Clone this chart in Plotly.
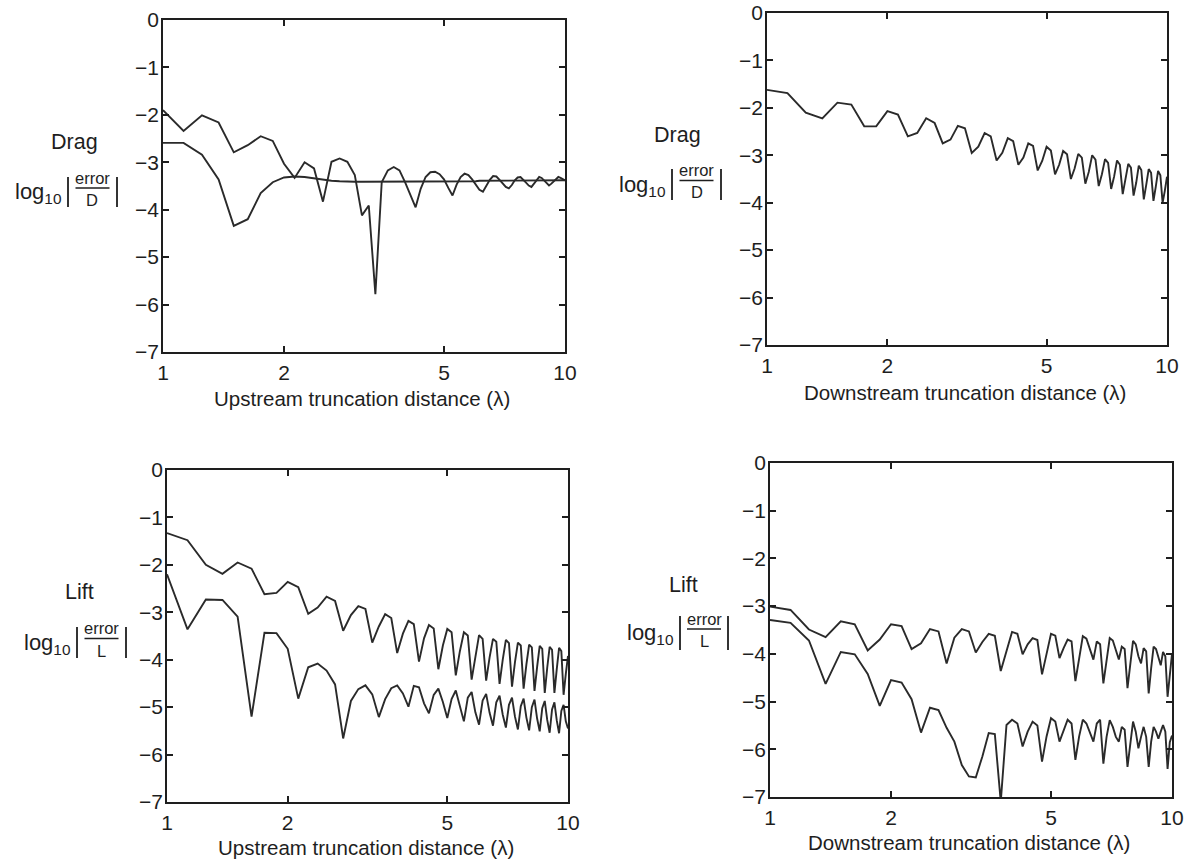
import plotly.graph_objects as go

# Truncation distance in wavelengths (sampled every 1/8 of a wavelength)
distance = [
    1.0, 1.125, 1.25, 1.375, 1.5, 1.625, 1.75, 1.875,
    2.0, 2.125, 2.25, 2.375, 2.5, 2.625, 2.75, 2.875,
    3.0, 3.125, 3.25, 3.375, 3.5, 3.625, 3.75, 3.875,
    4.0, 4.125, 4.25, 4.375, 4.5, 4.625, 4.75, 4.875,
    5.0, 5.125, 5.25, 5.375, 5.5, 5.625, 5.75, 5.875,
    6.0, 6.125, 6.25, 6.375, 6.5, 6.625, 6.75, 6.875,
    7.0, 7.125, 7.25, 7.375, 7.5, 7.625, 7.75, 7.875,
    8.0, 8.125, 8.25, 8.375, 8.5, 8.625, 8.75, 8.875,
    9.0, 9.125, 9.25, 9.375, 9.5, 9.625, 9.75, 9.875,
    10.0,
]

# log10 |error / D| vs upstream truncation distance
drag_up_osc = [
    -1.90, -2.34, -2.01, -2.16, -2.79, -2.64, -2.45, -2.55,
    -3.03, -3.33, -3.00, -3.13, -3.83, -2.99, -2.92, -2.99,
    -3.27, -4.12, -3.91, -5.78, -3.42, -3.17, -3.10, -3.17,
    -3.42, -3.70, -3.95, -3.56, -3.31, -3.21, -3.20, -3.25,
    -3.36, -3.54, -3.70, -3.47, -3.31, -3.24, -3.27, -3.36,
    -3.47, -3.58, -3.62, -3.50, -3.37, -3.29, -3.30, -3.37,
    -3.45, -3.52, -3.55, -3.48, -3.38, -3.32, -3.31, -3.36,
    -3.43, -3.49, -3.52, -3.45, -3.37, -3.31, -3.33, -3.38,
    -3.44, -3.49, -3.45, -3.40, -3.35, -3.31, -3.33, -3.35,
    -3.38,
]
drag_up_smooth = [
    -2.59, -2.59, -2.84, -3.36, -4.34, -4.20, -3.65, -3.42,
    -3.32, -3.30, -3.31, -3.34, -3.37, -3.39, -3.40, -3.41,
    -3.41, -3.41, -3.41, -3.41, -3.41, -3.41, -3.41, -3.41,
    -3.41, -3.40, -3.40, -3.40, -3.40, -3.40, -3.40, -3.40,
    -3.40, -3.40, -3.40, -3.40, -3.40, -3.40, -3.40, -3.40,
    -3.40, -3.39, -3.39, -3.39, -3.39, -3.39, -3.39, -3.39,
    -3.39, -3.39, -3.39, -3.39, -3.39, -3.39, -3.39, -3.39,
    -3.39, -3.38, -3.38, -3.38, -3.38, -3.38, -3.38, -3.38,
    -3.38, -3.38, -3.38, -3.38, -3.38, -3.38, -3.38, -3.38,
    -3.38,
]

# log10 |error / D| vs downstream truncation distance
drag_down = [
    -1.62, -1.69, -2.10, -2.22, -1.89, -1.93, -2.39, -2.39,
    -2.07, -2.14, -2.60, -2.53, -2.22, -2.32, -2.75, -2.67,
    -2.38, -2.43, -2.95, -2.82, -2.53, -2.60, -3.11, -2.95,
    -2.64, -2.70, -3.20, -3.05, -2.75, -2.80, -3.32, -3.12,
    -2.82, -2.90, -3.40, -3.20, -2.91, -2.98, -3.50, -3.28,
    -2.97, -3.05, -3.60, -3.35, -3.00, -3.09, -3.65, -3.40,
    -3.08, -3.16, -3.71, -3.45, -3.11, -3.20, -3.82, -3.52,
    -3.18, -3.26, -3.85, -3.58, -3.22, -3.31, -3.93, -3.62,
    -3.29, -3.37, -3.96, -3.66, -3.33, -3.42, -4.00, -3.75,
    -3.45,
]

# log10 |error / L| vs upstream truncation distance
lift_up_a = [
    -1.33, -1.48, -2.00, -2.19, -1.95, -2.08, -2.62, -2.59,
    -2.36, -2.47, -3.03, -2.90, -2.67, -2.76, -3.39, -3.06,
    -2.87, -2.93, -3.64, -3.30, -3.04, -3.12, -3.86, -3.45,
    -3.18, -3.25, -4.04, -3.55, -3.27, -3.34, -4.20, -3.70,
    -3.35, -3.42, -4.33, -3.82, -3.42, -3.49, -4.42, -3.90,
    -3.48, -3.56, -4.44, -3.95, -3.56, -3.62, -4.51, -4.00,
    -3.58, -3.65, -4.57, -4.05, -3.64, -3.70, -4.61, -4.10,
    -3.68, -3.74, -4.66, -4.15, -3.71, -3.77, -4.70, -4.17,
    -3.73, -3.79, -4.70, -4.20, -3.75, -3.82, -4.74, -4.30,
    -3.92,
]
lift_up_b = [
    -2.20, -3.36, -2.73, -2.74, -3.09, -5.20, -3.43, -3.44,
    -3.77, -4.82, -4.16, -4.08, -4.23, -4.52, -5.66, -4.87,
    -4.62, -4.54, -4.73, -5.21, -4.83, -4.60, -4.54, -4.71,
    -4.99, -4.55, -4.58, -4.92, -5.13, -4.74, -4.61, -4.89,
    -5.23, -4.83, -4.65, -4.96, -5.30, -4.80, -4.68, -5.11,
    -5.37, -4.86, -4.72, -5.12, -5.39, -4.90, -4.76, -5.16,
    -5.43, -4.95, -4.80, -5.20, -5.47, -4.98, -4.82, -5.22,
    -5.49, -5.00, -4.84, -5.24, -5.51, -5.02, -4.87, -5.27,
    -5.54, -5.05, -4.90, -5.28, -5.55, -5.08, -4.95, -5.30,
    -5.45,
]

# log10 |error / L| vs downstream truncation distance
lift_down_a = [
    -3.01, -3.08, -3.49, -3.65, -3.32, -3.38, -3.93, -3.70,
    -3.38, -3.42, -3.90, -3.78, -3.48, -3.53, -4.20, -3.66,
    -3.48, -3.53, -3.97, -3.75, -3.58, -3.62, -4.36, -3.95,
    -3.54, -3.58, -4.01, -3.80, -3.67, -3.71, -4.43, -4.00,
    -3.58, -3.62, -4.09, -3.88, -3.70, -3.74, -4.57, -4.10,
    -3.63, -3.68, -3.90, -4.12, -3.74, -3.80, -4.62, -4.15,
    -3.67, -3.72, -3.95, -4.12, -3.85, -3.90, -4.72, -4.25,
    -3.73, -3.80, -4.05, -4.20, -3.88, -3.95, -4.83, -4.30,
    -3.85, -3.90, -4.10, -4.24, -3.96, -4.05, -4.90, -4.40,
    -4.00,
]
lift_down_b = [
    -3.29, -3.35, -3.72, -4.63, -3.96, -4.01, -4.42, -5.09,
    -4.55, -4.60, -4.95, -5.65, -5.13, -5.18, -5.55, -5.84,
    -6.33, -6.57, -6.59, -6.15, -5.66, -5.68, -7.10, -5.49,
    -5.38, -5.46, -5.94, -5.63, -5.42, -5.50, -6.26, -5.73,
    -5.35, -5.42, -5.84, -5.59, -5.38, -5.46, -6.22, -5.73,
    -5.38, -5.46, -5.67, -5.84, -5.46, -5.38, -6.30, -5.74,
    -5.39, -5.53, -5.74, -5.84, -5.53, -5.59, -6.37, -5.84,
    -5.42, -5.63, -5.98, -5.74, -5.53, -5.74, -6.37, -5.84,
    -5.53, -5.63, -5.78, -5.63, -5.49, -5.63, -6.41, -5.85,
    -5.71,
]

x_ticks = [1, 2, 5, 10]
x_tick_text = ["1", "2", "5", "10"]
y_ticks = [0, -1, -2, -3, -4, -5, -6, -7]

W, H = 1195, 864
FONT = "Liberation Sans, Arial, Helvetica, sans-serif"
INK = "#1e1e1e"
LINE = "#2a2a2a"


def px(x):
    return x / W


def py(y):
    return 1 - y / H


# Panel frames in pixels: (left, right, top, bottom)
panels = {
    "1": (163, 565, 20, 352),
    "2": (767, 1167, 13, 345),
    "3": (167, 568, 470, 802),
    "4": (770, 1172, 463, 797),
}

fig = go.Figure()

series = [
    ("1", drag_up_osc), ("1", drag_up_smooth),
    ("2", drag_down),
    ("3", lift_up_a), ("3", lift_up_b),
    ("4", lift_down_a), ("4", lift_down_b),
]
for key, vals in series:
    suffix = "" if key == "1" else key
    fig.add_trace(go.Scatter(
        x=distance, y=vals, mode="lines",
        line=dict(color=LINE, width=1.9),
        xaxis="x" + suffix, yaxis="y" + suffix,
        showlegend=False, hoverinfo="skip",
    ))

layout_axes = {}
for key, (l, r, t, b) in panels.items():
    suffix = "" if key == "1" else key
    common = dict(
        showline=True, linewidth=1.8, linecolor=INK, mirror="ticks",
        ticks="inside", ticklen=6, tickwidth=1.6, tickcolor=INK,
        showgrid=False, zeroline=False, automargin=False,
        tickfont=dict(family=FONT, size=21, color=INK),
    )
    layout_axes["xaxis" + suffix] = dict(
        common, type="log", range=[0, 1], domain=[px(l), px(r)],
        anchor="y" + suffix, tickvals=x_ticks, ticktext=x_tick_text,
        ticklabelstandoff=1,
    )
    layout_axes["yaxis" + suffix] = dict(
        common, range=[-7, 0], domain=[py(b), py(t)],
        anchor="x" + suffix, tickvals=y_ticks, ticklabelstandoff=-2,
    )

fig.update_layout(**layout_axes)

annotations = []
shapes = []

# Horizontal axis titles
x_titles = [
    ("1", "Upstream truncation distance (λ)", 398),
    ("2", "Downstream truncation distance (λ)", 392),
    ("3", "Upstream truncation distance (λ)", 847),
    ("4", "Downstream truncation distance (λ)", 842),
]
for key, text, ypix in x_titles:
    l, r, _, _ = panels[key]
    annotations.append(dict(
        text=text, x=px((l + r) / 2 - 2), y=py(ypix), xref="paper",
        yref="paper", xanchor="center", yanchor="middle", showarrow=False,
        font=dict(family=FONT, size=20.5, color=INK),
    ))

# Vertical axis labels: quantity name above log10 |error / F|
y_labels = [
    # word, letter, word centre, left bar x, right bar x, bar top, bar bottom
    ("Drag", "D", (74, 142), 68, 117, 177, 207),
    ("Drag", "D", (677, 135), 672, 721, 169, 200),
    ("Lift", "L", (79, 592), 77, 126, 627, 658),
    ("Lift", "L", (683, 585), 680, 728, 616, 650),
]
for word, letter, (wx, wy), bl, br, bt, bb in y_labels:
    mid = (bt + bb) / 2
    cx = (bl + br) / 2
    annotations.append(dict(
        text=word, x=px(wx), y=py(wy), xref="paper", yref="paper",
        xanchor="center", yanchor="middle", showarrow=False,
        font=dict(family=FONT, size=21.5, color=INK),
    ))
    annotations.append(dict(
        text="log<sub>10</sub>", x=px(bl - 5), y=py(mid + 1), xref="paper",
        yref="paper", xanchor="right", yanchor="middle", showarrow=False,
        font=dict(family=FONT, size=22, color=INK),
    ))
    annotations.append(dict(
        text="error", x=px(cx), y=py(mid - 3.5), xref="paper", yref="paper",
        xanchor="center", yanchor="bottom", showarrow=False,
        font=dict(family=FONT, size=16.5, color=INK),
    ))
    annotations.append(dict(
        text=letter, x=px(cx), y=py(mid - 3), xref="paper", yref="paper",
        xanchor="center", yanchor="top", showarrow=False,
        font=dict(family=FONT, size=16.5, color=INK),
    ))
    # fraction rule and the absolute-value bars
    shapes.append(dict(type="line", xref="paper", yref="paper",
                       x0=px(cx - 17), x1=px(cx + 17),
                       y0=py(mid - 4), y1=py(mid - 4),
                       line=dict(color=INK, width=1.4)))
    for bx in (bl, br):
        shapes.append(dict(type="line", xref="paper", yref="paper",
                           x0=px(bx), x1=px(bx), y0=py(bt), y1=py(bb),
                           line=dict(color=INK, width=1.8)))

fig.update_layout(
    width=W, height=H,
    margin=dict(l=0, r=0, t=0, b=0, pad=0),
    paper_bgcolor="white", plot_bgcolor="white",
    showlegend=False,
    annotations=annotations, shapes=shapes,
    font=dict(family=FONT, color=INK),
)

fig.write_html("out.html")
